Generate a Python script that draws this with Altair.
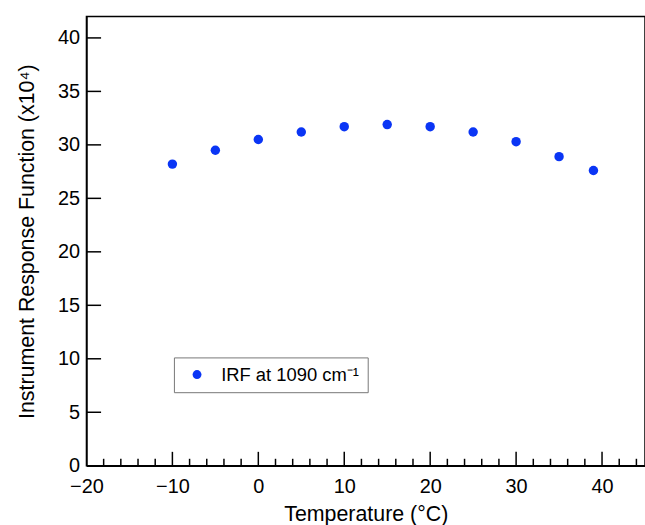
import altair as alt
import pandas as pd

temps = [-10, -5, 0, 5, 10, 15, 20, 25, 30, 35, 39]
irf = [28.2, 29.5, 30.5, 31.2, 31.7, 31.9, 31.7, 31.2, 30.3, 28.9, 27.6]
series_name = "IRF at 1090 cm⁻¹"

x_major = [-10, 0, 10, 20, 30, 40]
x_minor = [v for v in range(-18, 45, 2) if v % 10 != 0]
y_major = [5, 10, 15, 20, 25, 30, 35, 40]
x_labels = [-20, -10, 0, 10, 20, 30, 40]
y_labels = [0, 5, 10, 15, 20, 25, 30, 35, 40]

XDOM = [-20, 45]
YDOM = [0, 42]
FONT = "Liberation Sans"

df = pd.DataFrame({"t": temps, "irf": irf, "s": [series_name] * len(temps)})
xs = alt.Scale(domain=XDOM, nice=False, zero=False)
ys = alt.Scale(domain=YDOM, nice=False)

points = alt.Chart(df).mark_circle(size=90, opacity=1).encode(
    x=alt.X("t:Q", scale=xs,
            axis=alt.Axis(title="Temperature (°C)", values=x_labels, ticks=False,
                          grid=False, labelPadding=11, titlePadding=7,
                          domainColor="black", domainWidth=1.5)),
    y=alt.Y("irf:Q", scale=ys,
            axis=alt.Axis(title="Instrument Response Function  (x10⁴)", values=y_labels,
                          ticks=False, grid=False, labelPadding=7, titlePadding=19,
                          domainColor="black", domainWidth=1.5)),
    color=alt.Color("s:N", scale=alt.Scale(range=["#0a35f5"]),
                    legend=alt.Legend(title=None, orient="none", legendX=88, legendY=343,
                                      strokeColor="#777", padding=8, labelFontSize=18.5,
                                      symbolSize=80, symbolType="circle", symbolOffset=6,
                                      labelFont=FONT, labelColor="black",
                                      symbolStrokeWidth=0, labelOffset=15)),
)

xmaj = alt.Chart(pd.DataFrame({"v": x_major})).mark_rule(color="black", strokeWidth=1.5).encode(
    x=alt.X("v:Q", scale=xs), y=alt.datum(0, scale=ys), y2=alt.datum(1.3))
xmin = alt.Chart(pd.DataFrame({"v": x_minor})).mark_rule(color="black", strokeWidth=1.5).encode(
    x=alt.X("v:Q", scale=xs), y=alt.datum(0, scale=ys), y2=alt.datum(0.65))
ymaj = alt.Chart(pd.DataFrame({"v": y_major})).mark_rule(color="black", strokeWidth=1.5).encode(
    y=alt.Y("v:Q", scale=ys), x=alt.datum(-20, scale=xs), x2=alt.datum(-18.3))

chart = alt.layer(xmaj, xmin, ymaj, points).properties(
    width=562, height=452,
    autosize=alt.AutoSizeParams(type="none"),
    padding={"left": 87, "top": 15, "right": 0, "bottom": 58},
).configure_view(stroke="black", strokeWidth=1.5).configure_axis(
    labelFont=FONT, titleFont=FONT, labelFontSize=20, titleFontSize=21.5,
    labelColor="black", titleColor="black", titleFontWeight="normal",
).configure_axisY(labelFlush=False).configure_axisX(labelFlush=False)

chart.save("out.html", embed_options={"renderer": "svg", "actions": False})
